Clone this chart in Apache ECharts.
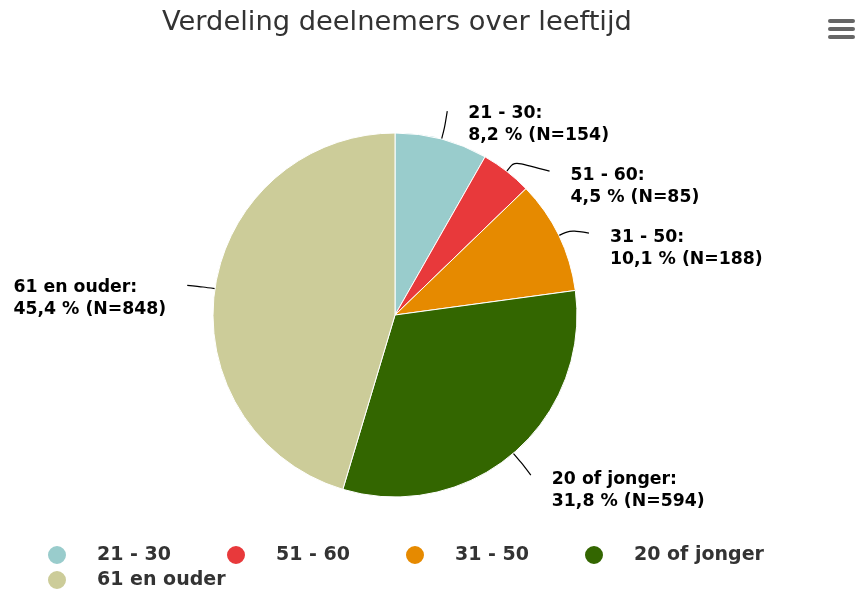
<!DOCTYPE html>
<html>
<head>
<meta charset="utf-8">
<script src="https://cdn.jsdelivr.net/npm/echarts@6/dist/echarts.min.js"></script>
<style>
  html, body { margin: 0; padding: 0; background: #fff; }
  #main { width: 857px; height: 591px; }
</style>
</head>
<body>
<div id="main"></div>
<script>
// leeftijdsgroepen en aantallen
let categories = ['21 - 30', '51 - 60', '31 - 50', '20 of jonger', '61 en ouder'];
let counts = [154, 85, 188, 594, 848];
let colors = ['#99cccc', '#e8393b', '#e68a00', '#336600', '#cccc99'];

let total = counts.reduce(function (a, b) { return a + b; }, 0);

// taart geometrie
const CX = 395, CY = 315, RADIUS = 182, DIST = 30, MIN_GAP = 62;

// eindpunten van de lijntjes, zoals highcharts: op straal + afstand, daarna niet overlappen
function labelEnds() {
  let acc = 0;
  let R = RADIUS + DIST;
  let ends = counts.map(function (v, i) {
    let mid = (acc + v / 2) / total * Math.PI * 2;
    acc += v;
    return {
      side: Math.sin(mid) >= 0 ? 1 : -1,
      x: CX + R * Math.sin(mid),
      y: CY - R * Math.cos(mid),
      // raakpunt op de rand en knikpunt iets erbuiten
      ex: CX + RADIUS * Math.sin(mid),
      ey: CY - RADIUS * Math.cos(mid),
      bx: CX + (RADIUS + 12) * Math.sin(mid),
      by: CY - (RADIUS + 12) * Math.cos(mid)
    };
  });
  [1, -1].forEach(function (side) {
    let list = ends.filter(function (e) { return e.side === side; })
      .sort(function (a, b) { return a.y - b.y; });
    for (let k = 1; k < list.length; k++) {
      if (list[k].y < list[k - 1].y + MIN_GAP) {
        list[k].y = list[k - 1].y + MIN_GAP;
        let dy = list[k].y - CY;
        list[k].x = CX + side * Math.sqrt(Math.max(0, R * R - dy * dy));
      }
    }
  });
  ends.forEach(function (e) { e.x += e.side * 3; });
  return ends;
}
let ends = labelEnds();

// legenda: vaste breedte per item
let ctx = document.createElement('canvas').getContext('2d');
ctx.font = 'bold 19px "DejaVu Sans"';
let legendData = categories.map(function (c) {
  let w = ctx.measureText(c).width;
  return { name: c, textStyle: { padding: [0, Math.max(0, 125 - w), 0, 25] } };
});

let chart = echarts.init(document.getElementById('main'), null, { renderer: 'canvas' });

let option = {
  color: colors,
  title: {
    text: 'Verdeling deelnemers over leeftijd',
    left: 157,
    top: 4,
    textStyle: {
      fontFamily: '"DejaVu Sans"',
      fontSize: 27.3,
      fontWeight: 'normal',
      color: '#333333'
    }
  },
  legend: {
    data: legendData,
    left: 46,
    top: 544,
    width: 760,
    padding: 0,
    icon: 'circle',
    itemWidth: 20,
    itemHeight: 20,
    itemGap: 3,
    textStyle: {
      fontFamily: '"DejaVu Sans"',
      fontSize: 19,
      lineHeight: 20,
      fontWeight: 'bold',
      color: '#333333'
    }
  },
  graphic: [
    // menu icoon rechtsboven
    { type: 'rect', shape: { x: 828, y: 19, width: 27, height: 4, r: 2 }, style: { fill: '#666' } },
    { type: 'rect', shape: { x: 828, y: 27, width: 27, height: 4, r: 2 }, style: { fill: '#666' } },
    { type: 'rect', shape: { x: 828, y: 35, width: 27, height: 4, r: 2 }, style: { fill: '#666' } }
  ],
  series: [
    {
      type: 'pie',
      center: [CX, CY],
      radius: RADIUS,
      startAngle: 90,
      clockwise: true,
      animation: false,
      itemStyle: {
        borderColor: '#ffffff',
        borderWidth: 1
      },
      label: {
        show: true,
        color: '#000000',
        fontFamily: '"DejaVu Sans"',
        fontSize: 17.3,
        fontWeight: 'bold',
        lineHeight: 22,
        formatter: function (p) {
          let pct = (p.value / total * 100).toFixed(1).replace('.', ',');
          return p.name + ':\n' + pct + ' % (N=' + p.value + ')';
        }
      },
      labelLine: {
        show: true,
        smooth: 0.3,
        lineStyle: { color: '#000000', width: 1.2 }
      },
      labelLayout: function (params) {
        let e = ends[params.dataIndex];
        let w = params.labelRect.width;
        return {
          x: e.side > 0 ? e.x + 16 : e.x - 16 - w,
          y: e.y + 3 - 11,
          align: 'left',
          verticalAlign: 'top',
          labelLinePoints: [
            [e.ex, e.ey],
            [e.bx, e.by],
            [e.x - e.side * 5, e.y + (e.by < e.y ? -1 : 1)],
            [e.x, e.y]
          ]
        };
      },
      data: categories.map(function (c, i) {
        return { name: c, value: counts[i] };
      })
    }
  ]
};

chart.setOption(option);
</script>
</body>
</html>
